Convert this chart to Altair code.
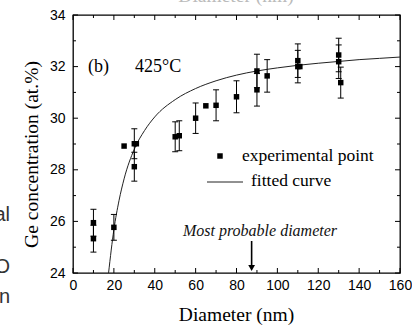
import altair as alt
import pandas as pd

# Measured Ge concentration vs. nanocrystal diameter (425 C anneal)
diameter = [10, 10, 20, 25, 30, 31, 30, 50, 52, 60, 65, 70, 80, 90, 90, 95, 110, 110, 111, 130, 130, 131]
ge_conc = [25.95, 25.33, 25.77, 28.92, 29.01, 29.01, 28.12, 29.28, 29.32, 30.0, 30.48, 30.5,
           30.83, 31.83, 31.1, 31.64, 32.23, 32.0, 32.0, 32.45, 32.19, 31.38]
ge_err = [0.52, 0.52, 0.5, 0, 0.58, 0, 0.56, 0.58, 0.58, 0.59, 0, 0.6,
          0.62, 0.65, 0.63, 0.63, 0.65, 0.63, 0, 0.65, 0.65, 0.6]

# Fitted curve samples
fit_d = [17.4, 20, 22.5, 25, 30, 35, 40, 50, 60, 70, 80, 90, 100, 110, 120, 130, 140, 150, 160]
fit_c = [24.0, 25.68, 26.8, 27.65, 28.8, 29.52, 30.05, 30.72, 31.15, 31.45, 31.67, 31.83,
         31.95, 32.05, 32.13, 32.2, 32.27, 32.32, 32.37]

# Axis ticks
x_major = [0, 20, 40, 60, 80, 100, 120, 140, 160]
x_minor = [10, 30, 50, 70, 90, 110, 130, 150]
y_major = [24, 26, 28, 30, 32, 34]
y_minor = [25, 27, 29, 31, 33]

most_probable = [87.4]

W, H = 327, 258
SERIF = "Liberation Serif"
SANS = "Liberation Sans"

xs = alt.Scale(domain=[0, 160], nice=False, zero=False)
ys = alt.Scale(domain=[24, 34], nice=False, zero=False)

pts = pd.DataFrame({"d": diameter, "c": ge_conc, "e": ge_err})
pts["lo"] = pts["c"] - pts["e"]
pts["hi"] = pts["c"] + pts["e"]
bars = pts[pts["e"] > 0]

fit = pd.DataFrame({"d": fit_d, "c": fit_c})

x_axis = alt.Axis(values=x_major, title="Diameter (nm)", ticks=False, domain=False, grid=False,
                  labelFont=SANS, labelFontSize=14, labelColor="black", labelPadding=5,
                  labelFlush=False, labelOverlap=False,
                  titleFont=SERIF, titleFontSize=19.5, titleFontWeight=400, titleColor="black",
                  titleX=163, titleY=47, titleAlign="center", titleBaseline="alphabetic")
y_axis = alt.Axis(values=y_major, title="Ge concentration (at.%)", ticks=False, domain=False, grid=False,
                  labelFont=SANS, labelFontSize=14, labelColor="black", labelPadding=8,
                  labelFlush=False, labelOverlap=False,
                  titleFont=SERIF, titleFontSize=19.5, titleFontWeight=400, titleColor="black",
                  titleX=-42, titleY=139, titleAngle=-90, titleAlign="center", titleBaseline="middle")


def X(field, **kw):
    return alt.X(field, type="quantitative", scale=xs, **kw)


def Y(field, **kw):
    return alt.Y(field, type="quantitative", scale=ys, **kw)


points = alt.Chart(pts).mark_square(size=30, color="black", opacity=1).encode(
    x=X("d", axis=x_axis),
    y=Y("c", axis=y_axis),
)

err_rule = alt.Chart(bars).mark_rule(color="black", strokeWidth=1).encode(
    x=X("d"), y=Y("lo"), y2="hi:Q")
cap_lo = alt.Chart(bars).mark_tick(orient="horizontal", size=6, thickness=1, color="black", opacity=1).encode(
    x=X("d"), y=Y("lo"))
cap_hi = alt.Chart(bars).mark_tick(orient="horizontal", size=6, thickness=1, color="black", opacity=1).encode(
    x=X("d"), y=Y("hi"))

curve = alt.Chart(fit).mark_line(interpolate="monotone", color="#222", strokeWidth=1).encode(
    x=X("d"), y=Y("c"))

# Inward ticks on all four sides
xmaj = pd.DataFrame({"v": x_major})
xmin = pd.DataFrame({"v": x_minor})
ymaj = pd.DataFrame({"v": y_major})
ymin = pd.DataFrame({"v": y_minor})


def xticks(df, length):
    bot = alt.Chart(df).mark_rule(color="black", strokeWidth=1).encode(
        x=X("v"), y=alt.value(H), y2=alt.value(H - length))
    top = alt.Chart(df).mark_rule(color="black", strokeWidth=1).encode(
        x=X("v"), y=alt.value(0), y2=alt.value(length))
    return bot + top


def yticks(df, length):
    left = alt.Chart(df).mark_rule(color="black", strokeWidth=1).encode(
        y=Y("v"), x=alt.value(0), x2=alt.value(length))
    right = alt.Chart(df).mark_rule(color="black", strokeWidth=1).encode(
        y=Y("v"), x=alt.value(W), x2=alt.value(W - length))
    return left + right


ticks = xticks(xmaj, 5) + xticks(xmin, 3) + yticks(ymaj, 5) + yticks(ymin, 3)

one = pd.DataFrame({"k": [0]})


def label(text, px, py, size, font=SERIF, align="left", baseline="alphabetic", color="black", style="normal"):
    return alt.Chart(one).mark_text(font=font, fontSize=size, align=align, baseline=baseline,
                                    color=color, fontStyle=style, text=text).encode(
        x=alt.value(px), y=alt.value(py))


panel_label = label("(b)", 15, 57, 18)
temp_label = label("425\u00b0C", 62, 57, 18)

# Legend drawn inside the plot
leg_sq = alt.Chart(one).mark_square(size=30, color="black", opacity=1).encode(
    x=alt.value(147), y=alt.value(141))
leg_t1 = label("experimental point", 169, 141, 17.5, baseline="middle")
leg_ln = alt.Chart(one).mark_rule(color="#222", strokeWidth=1).encode(
    x=alt.value(134), x2=alt.value(170), y=alt.value(167))
leg_t2 = label("fitted curve", 178, 166, 17.5, baseline="middle")

# Most probable diameter marker
mp = pd.DataFrame({"d": most_probable})
mp_text = label("Most probable diameter", 187, 221, 16, align="center", color="#111", style="italic")
mp_shaft = alt.Chart(mp).mark_rule(color="black", strokeWidth=1.6).encode(
    x=X("d"), y=alt.value(226), y2=alt.value(252))
mp_head = alt.Chart(mp).mark_point(shape="triangle-down", filled=True, size=45, color="black",
                                   opacity=1).encode(
    x=X("d"), y=alt.value(253))

# Edge fragments of neighbouring panels
top_frag = label("Diameter (nm)", 163, -13, 19.5, align="center", color="#bbb")
frag_a = label("al", -63, 200, 20, font=SANS, align="right", baseline="middle", color="#333")
frag_o = label("O", -63, 252, 20, font=SANS, align="right", baseline="middle", color="#333")
frag_n = label("n", -63, 282, 20, font=SANS, align="right", baseline="middle", color="#333")

chart = alt.layer(
    ticks, curve, err_rule, cap_lo, cap_hi, points,
    panel_label, temp_label, leg_sq, leg_t1, leg_ln, leg_t2,
    mp_text, mp_shaft, mp_head, top_frag, frag_a, frag_o, frag_n,
).properties(
    width=W, height=H,
    autosize=alt.AutoSizeParams(type="none"),
    padding={"left": 73, "top": 15, "right": 12, "bottom": 53},
    background="white",
).configure_view(
    stroke="black", strokeWidth=1.3
)

chart.save("out.html", embed_options={"renderer": "svg", "actions": False})
